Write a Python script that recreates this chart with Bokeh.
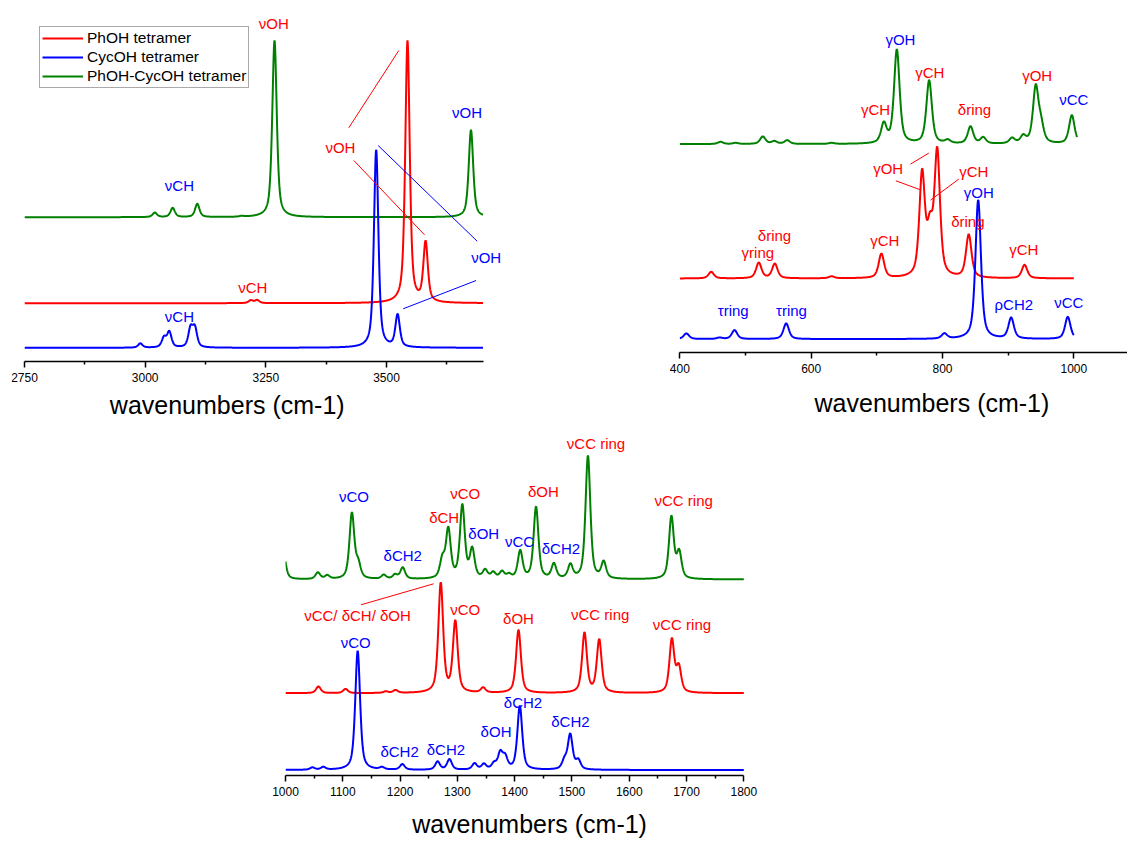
import numpy as np
from bokeh.plotting import figure
from bokeh.models import (ColumnDataSource, Legend, LegendItem, FixedTicker, Range1d, LinearAxis)
from bokeh.layouts import column, row
from bokeh.core.properties import value
from bokeh.embed import file_html
from bokeh.resources import INLINE

RED = "#FF0000"
BLUE = "#0000FF"
GREEN = "#008000"
FONT = "Liberation Sans"
ETA = 0.6  # Lorentzian fraction of the band shape

SERIES_NAMES = ["PhOH tetramer", "CycOH tetramer", "PhOH-CycOH tetramer"]
AXIS_TITLE = "wavenumbers (cm-1)"

# ---------------- Panel A : 2750-3700 cm-1 ----------------
A_RANGE = (2750, 3700)
A_TICKS = [2750, 3000, 3250, 3500]
A_MINOR = [2875, 3125, 3375, 3625]
A_FWHM = 11
A_MIX_POS = [3020, 3057, 3108, 3200, 3235, 3268, 3675]
A_MIX_INT = [4.7, 9.4, 13.4, 1.5, 3.0, 176.7, 87.3]
A_PHOH_POS = [3219, 3232, 3543.5, 3581]
A_PHOH_INT = [3.2, 3.4, 262.7, 62.7]
A_CYC_POS = [2990, 3039, 3050, 3094, 3103, 3478.6, 3523]
A_CYC_INT = [4.5, 12.0, 17.0, 23.0, 23.0, 198.0, 34.0]
A_MIX_BASE, A_PHOH_BASE, A_CYC_BASE = 144.3, 58.3, 13.7

A_LAB_TEXT = ["νOH", "νCH", "νOH", "νOH", "νOH", "νCH", "νCH"]
A_LAB_X = [3266.5, 3071, 3667, 3404.6, 3706.5, 3223, 3071]
A_LAB_Y = [338.3, 176, 248.7, 214.3, 103.7, 74.3, 45]
A_LAB_COL = [RED, BLUE, BLUE, RED, BLUE, RED, BLUE]
A_SEG_X0 = [3421.9, 3432.3, 3482.7, 3534.5]
A_SEG_Y0 = [233.7, 201.0, 216.0, 52.7]
A_SEG_X1 = [3525.5, 3578.7, 3687.8, 3685.7]
A_SEG_Y1 = [311.0, 126.7, 120.3, 81.0]
A_SEG_COL = [RED, RED, BLUE, BLUE]
A_TITLE_X = 3170

# ---------------- Panel B : 400-1000 cm-1 ----------------
B_RANGE = (400, 1000)
B_MIX_END = 1005
B_TICKS = [400, 600, 800, 1000]
B_MINOR = [500, 700, 900]
B_FWHM = 10
B_MIX_POS = [462, 485, 526.4, 544, 563.5, 631, 710.7, 730.5, 779.7, 808, 842.7, 862, 906, 923, 942, 950, 997]
B_MIX_INT = [2.3, 1.3, 7.7, 3.3, 4.0, 1.3, 22.7, 95.0, 64.0, 5.0, 18.0, 7.3, 6.7, 10.0, 60.0, 30.0, 29.0]
B_PHOH_POS = [447.8, 520.3, 544.7, 631, 707, 769, 781, 786, 792, 840, 925]
B_PHOH_INT = [6.7, 16.0, 15.0, 2.3, 25.0, 110.0, 67.0, 62.0, 132.0, 44.3, 13.7]
B_CYC_POS = [410, 460.5, 483.3, 562, 803, 854.4, 904.6, 990.8]
B_CYC_INT = [5.7, 1.7, 9.0, 15.7, 6.0, 139.3, 21.7, 22.3]
B_MIX_BASE, B_PHOH_BASE, B_CYC_BASE = 208.4, 74.0, 13.4

B_LAB_TEXT = ["γOH", "γCH", "γCH", "δring", "γOH", "νCC", "γOH", "γCH", "γOH", "δring",
              "δring", "γring", "γCH", "γCH", "τring", "τring", "ρCH2", "νCC"]
B_LAB_X = [736, 780.7, 698, 848.8, 944.2, 1000, 717.3, 847.7, 855.3, 838.6,
           544.2, 518.8, 712.2, 923.8, 481.3, 570, 908.6, 992.4]
B_LAB_Y = [312.7, 280, 242.7, 242.7, 276.7, 253.4, 184, 181, 160, 131,
           116.7, 100, 112.4, 103.4, 41.7, 41.7, 48.4, 50]
B_LAB_COL = [BLUE, RED, RED, RED, RED, BLUE, RED, RED, BLUE, RED,
             RED, RED, RED, RED, BLUE, BLUE, BLUE, BLUE]
B_SEG_X0 = [751.3, 729.0, 781.8]
B_SEG_Y0 = [188.4, 171.7, 152.4]
B_SEG_X1 = [779.2, 767.6, 824.9]
B_SEG_Y1 = [199.4, 162.4, 173.4]
B_SEG_COL = [RED, RED, RED]
B_TITLE_X = 784

# ---------------- Panel C : 1000-1800 cm-1 ----------------
C_RANGE = (1000, 1800)
C_TICKS = [1000, 1100, 1200, 1300, 1400, 1500, 1600, 1700, 1800]
C_MINOR = [1050, 1150, 1250, 1350, 1450, 1550, 1650, 1750]
C_FWHM = 10
C_MIX_POS = [996, 1056.5, 1073, 1115.9, 1126.9, 1171.6, 1191.2, 1204.6, 1273.8, 1284.2, 1308.7, 1325.9,
             1348.5, 1362.6, 1377.9, 1390.1, 1409.7, 1437.3, 1468.5, 1497.3, 1527.9, 1555.4, 1673.6, 1687.1]
C_MIX_INT = [29.0, 7.3, 4.7, 67.3, 21.7, 5.0, 5.7, 12.3, 25.7, 53.0, 75.7, 33.0,
             10.7, 8.3, 9.0, 6.7, 29.7, 73.0, 16.7, 16.3, 124.0, 19.0, 64.0, 30.7]
C_PHOH_POS = [1057.5, 1104.7, 1175, 1192, 1271, 1296.4, 1345, 1406.7, 1521.9, 1547.6, 1674.4, 1686.5]
C_PHOH_INT = [6.7, 4.3, 2.0, 3.3, 111.0, 73.3, 6.0, 63.3, 61.0, 54.3, 55.3, 30.0]
C_CYC_POS = [1047, 1066, 1126, 1168.5, 1204, 1265.5, 1286.2, 1330, 1346.3, 1364, 1375, 1383.5,
             1409, 1487, 1497, 1511]
C_CYC_INT = [2.7, 3.3, 119.3, 3.3, 6.0, 8.7, 11.0, 7.0, 6.7, 8.7, 20.0, 16.7,
             64.3, 14.0, 36.7, 11.7]
C_MIX_BASE, C_PHOH_BASE, C_CYC_BASE = 196.0, 82.3, 5.5

C_LAB_TEXT = ["νCO", "δCH2", "δCH", "νCO", "δOH", "νCC", "δOH", "δCH2", "νCC ring", "νCC ring",
              "νCC/ δCH/ δOH", "νCO", "δOH", "νCC ring", "νCC ring",
              "νCO", "δCH2", "δCH2", "δOH", "δCH2", "δCH2"]
C_LAB_X = [1119.5, 1204.6, 1276.9, 1313.6, 1346.1, 1408.5, 1450.1, 1480.7, 1542, 1695,
           1125.7, 1313.6, 1406.7, 1549.3, 1692,
           1122.6, 1414.6, 1497.3, 1367.5, 1199.1, 1280]
C_LAB_Y = [279, 220, 258.3, 281.7, 242.3, 234.3, 284.3, 227.3, 331.7, 275,
           160, 165.7, 156.7, 161, 151,
           133.3, 73.3, 54.3, 44.3, 24, 25.7]
C_LAB_COL = [BLUE, BLUE, RED, RED, BLUE, BLUE, RED, BLUE, RED, RED,
             RED, RED, RED, RED, RED,
             BLUE, BLUE, BLUE, BLUE, BLUE, BLUE]
C_SEG_X0 = [1131.8]
C_SEG_Y0 = [170.7]
C_SEG_X1 = [1258.5]
C_SEG_Y1 = [191.7]
C_SEG_COL = [RED]
C_TITLE_X = 1426


def band_profile(x, centre, fwhm, eta=ETA):
    d = (x - centre) / (0.5 * fwhm)
    return eta / (1.0 + d * d) + (1.0 - eta) * np.exp(-np.log(2.0) * d * d)


def spectrum(x, pos, heights, fwhm):
    pos = np.asarray(pos, float)
    h = np.asarray(heights, float)
    K = band_profile(pos[:, None], pos[None, :], fwhm)
    amp = h.copy()
    for _ in range(3000):
        amp = np.clip(amp + 0.25 * (h - K @ amp), 0.0, None)
    return band_profile(x[:, None], pos[None, :], fwhm) @ amp


def make_panel(width, height, border_left, border_bottom, x_start, px_per_unit, bounds, ticks, minor):
    frame_w = width - border_left
    frame_h = height - border_bottom
    x_end = x_start + frame_w / px_per_unit
    p = figure(width=width, height=height, x_range=Range1d(x_start, x_end), y_range=Range1d(0, frame_h),
               output_backend="svg", toolbar_location=None, y_axis_location=None, title=None,
               min_border_left=border_left, min_border_right=0, min_border_top=0,
               min_border_bottom=border_bottom)
    p.outline_line_color = None
    p.grid.visible = False
    p.background_fill_color = "white"
    p.border_fill_color = "white"
    ax = p.xaxis[0]
    ax.bounds = (bounds[0], min(bounds[1], x_end))
    ax.ticker = FixedTicker(ticks=ticks, minor_ticks=minor)
    ax.axis_line_color = "black"
    ax.axis_line_width = 1.5
    ax.major_tick_in = 0
    ax.major_tick_out = 6
    ax.minor_tick_in = 0
    ax.minor_tick_out = 3
    ax.major_tick_line_width = 1.5
    ax.minor_tick_line_width = 1.5
    ax.major_tick_line_color = "black"
    ax.minor_tick_line_color = "black"
    ax.major_label_text_font = FONT
    ax.major_label_text_font_size = "12px"
    ax.major_label_text_color = "black"
    ax.major_label_standoff = 5
    return p


def add_curves(p, x_start, fwhm, data):
    rends = []
    for (pos, inten, base, color, x_end) in data:
        xs = np.arange(x_start, x_end + 0.01, 0.5)
        ys = base + spectrum(xs, pos, inten, fwhm)
        rends.append(p.line(xs, ys, line_color=color, line_width=2))
    return rends


def add_labels(p, texts, xs, ys, cols, sx0, sy0, sx1, sy1, scol):
    p.segment(x0=sx0, y0=sy0, x1=sx1, y1=sy1, line_color=scol, line_width=1)
    src = ColumnDataSource(dict(x=xs, y=ys, text=texts, color=cols))
    p.text(x="x", y="y", text="text", text_color="color", source=src,
           text_font=value(FONT), text_font_size=value("15px"),
           text_align="center", text_baseline="middle")


def add_title(p, x_centre, standoff):
    # a second, line-less axis below the first carries the axis title as its only tick label
    t = LinearAxis(bounds=(x_centre - 1, x_centre + 1),
                   ticker=FixedTicker(ticks=[x_centre], minor_ticks=[]),
                   major_label_overrides={x_centre: AXIS_TITLE},
                   axis_line_color=None, major_tick_line_color=None, minor_tick_line_color=None,
                   major_tick_in=0, major_tick_out=0, minor_tick_in=0, minor_tick_out=0,
                   major_label_standoff=standoff, major_label_text_font=FONT,
                   major_label_text_font_size="25px", major_label_text_color="black")
    p.add_layout(t, "below")


# ---------- Panel A (frame bottom at y=361; same bottom border as panel B) ----------
pA = make_panel(560, 429, 24, 68, 2750, 0.48267, (2750, 3701.6), A_TICKS, A_MINOR)
mixA, phA, cyA = add_curves(pA, A_RANGE[0], A_FWHM, [
    (A_MIX_POS, A_MIX_INT, A_MIX_BASE, GREEN, A_RANGE[1]),
    (A_PHOH_POS, A_PHOH_INT, A_PHOH_BASE, RED, A_RANGE[1]),
    (A_CYC_POS, A_CYC_INT, A_CYC_BASE, BLUE, A_RANGE[1]),
])
add_labels(pA, A_LAB_TEXT, A_LAB_X, A_LAB_Y, A_LAB_COL, A_SEG_X0, A_SEG_Y0, A_SEG_X1, A_SEG_Y1, A_SEG_COL)
add_title(pA, A_TITLE_X, 6)
legend = Legend(items=[LegendItem(label=SERIES_NAMES[0], renderers=[phA]),
                       LegendItem(label=SERIES_NAMES[1], renderers=[cyA]),
                       LegendItem(label=SERIES_NAMES[2], renderers=[mixA])],
                location=(15, 273), orientation="vertical",
                border_line_color="#555555", border_line_width=1, background_fill_color="white",
                background_fill_alpha=1.0, padding=2, spacing=1, margin=0,
                label_height=18, glyph_height=18, glyph_width=41, label_standoff=4,
                label_text_font=FONT, label_text_font_size="15.5px", label_text_color="black")
pA.add_layout(legend)

# ---------- Panel B (frame bottom at y=352) ----------
pB = make_panel(567, 420, 119, 68, 399.54, 0.65667, (400, 2000), B_TICKS, B_MINOR)
add_curves(pB, B_RANGE[0], B_FWHM, [
    (B_MIX_POS, B_MIX_INT, B_MIX_BASE, GREEN, B_MIX_END),
    (B_PHOH_POS, B_PHOH_INT, B_PHOH_BASE, RED, B_RANGE[1]),
    (B_CYC_POS, B_CYC_INT, B_CYC_BASE, BLUE, B_RANGE[1]),
])
add_labels(pB, B_LAB_TEXT, B_LAB_X, B_LAB_Y, B_LAB_COL, B_SEG_X0, B_SEG_Y0, B_SEG_X1, B_SEG_Y1, B_SEG_COL)
add_title(pB, B_TITLE_X, 13)

# ---------- Panel C (starts at y=429, frame bottom at y=775) ----------
pC = make_panel(760, 412, 285, 66, 1000, 0.5729, (1000, 1800), C_TICKS, C_MINOR)
add_curves(pC, C_RANGE[0], C_FWHM, [
    (C_MIX_POS, C_MIX_INT, C_MIX_BASE, GREEN, C_RANGE[1]),
    (C_PHOH_POS, C_PHOH_INT, C_PHOH_BASE, RED, C_RANGE[1]),
    (C_CYC_POS, C_CYC_INT, C_CYC_BASE, BLUE, C_RANGE[1]),
])
add_labels(pC, C_LAB_TEXT, C_LAB_X, C_LAB_Y, C_LAB_COL, C_SEG_X0, C_SEG_Y0, C_SEG_X1, C_SEG_Y1, C_SEG_COL)
add_title(pC, C_TITLE_X, 11)

layout = column(row(pA, pB), pC)
open("out.html", "w").write(file_html(layout, INLINE))
